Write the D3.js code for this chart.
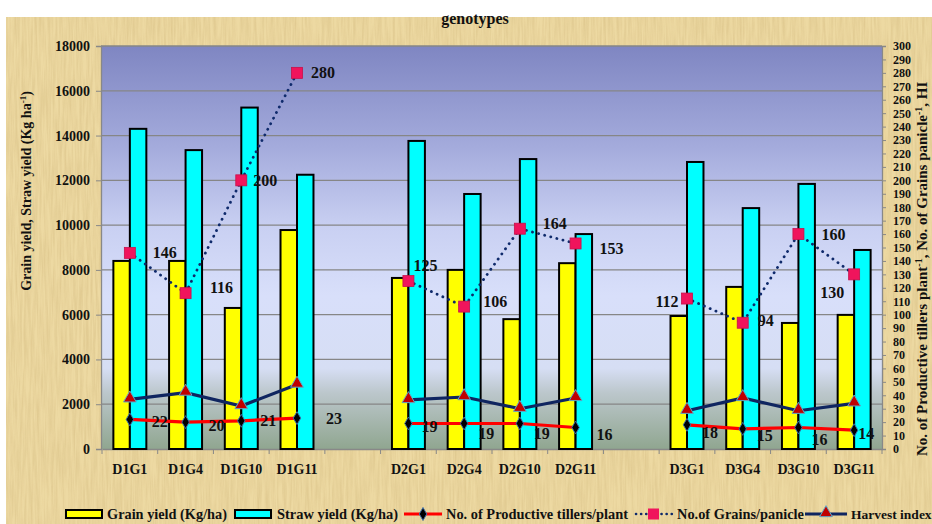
<!DOCTYPE html>
<html>
<head>
<meta charset="utf-8">
<script src="https://cdn.jsdelivr.net/npm/d3@7"></script>
<style>
  html, body { margin: 0; padding: 0; background: #fff; }
  svg { display: block; }
  text { font-family: "Liberation Serif", "Times New Roman", serif; font-weight: bold; fill: #111; }
</style>
</head>
<body>
<svg id="chart" width="932" height="524"></svg>
<script>
// ---- data ----
const dates = ["D1", "D2", "D3"];
const genotypes = ["G1", "G4", "G10", "G11"];
const categories = ["D1G1", "D1G4", "D1G10", "D1G11",
                    "D2G1", "D2G4", "D2G10", "D2G11",
                    "D3G1", "D3G4", "D3G10", "D3G11"];
const grainYield = [8400, 8400, 6300, 9780, 7640, 8000, 5800, 8300, 5940, 7240, 5630, 5990];
const strawYield = [14300, 13350, 15250, 12250, 13760, 11390, 12950, 9600, 12820, 10760, 11840, 8890];
const tillers = [22, 20, 21, 23, 19, 19, 19, 16, 18, 15, 16, 14];
const grains = [146, 116, 200, 280, 125, 106, 164, 153, 112, 94, 160, 130];
const harvestIndex = [37, 42, 32, 48, 36.5, 38.7, 30, 38, 28.5, 38, 28.5, 34];
const leftTicks = [0, 2000, 4000, 6000, 8000, 10000, 12000, 14000, 16000, 18000];
const rightTicks = [0, 10, 20, 30, 40, 50, 60, 70, 80, 90, 100, 110, 120, 130, 140, 150,
                    160, 170, 180, 190, 200, 210, 220, 230, 240, 250, 260, 270, 280, 290, 300];
const legendLabels = ["Grain yield (Kg/ha)", "Straw yield (Kg/ha)", "No. of Productive tillers/plant",
                      "No.of Grains/panicle", "Harvest index"];

// label nudges (px) so value labels sit clear of markers
const grainsLabelShift = [[35,0],[36,-6],[24,0],[26,0],[17,-16],[31,-5],[35,-5],[36,5],[-20,3],[23,-2],[35,0],[-22,18]];
const tillersLabelShift = [[30,2],[31,3],[27,0],[37,0],[21,3],[22,10],[22,10],[29,7],[23,8],[22,7],[21,12],[12,3]];

// ---- layout ----
const W = 932, H = 524;
const plot = { left: 101, right: 882, top: 46, bottom: 449 };
const svg = d3.select("#chart");
const defs = svg.append("defs");

// parchment backdrop
const paper = defs.append("filter").attr("id", "paper").attr("x", 0).attr("y", 0).attr("width", 1).attr("height", 1);
paper.append("feTurbulence").attr("type", "fractalNoise").attr("baseFrequency", "0.45 0.025")
  .attr("numOctaves", 3).attr("seed", 7).attr("result", "n");
paper.append("feColorMatrix").attr("in", "n").attr("type", "matrix")
  .attr("values", "0 0 0 0 0.66  0 0 0 0 0.5  0 0 0 0 0.22  1.0 0 0 0 -0.3");

svg.append("rect").attr("width", W).attr("height", H).attr("fill", "#fff");
svg.append("rect").attr("x", 6).attr("y", 17).attr("width", W - 6).attr("height", H - 17).attr("fill", "#EDD9A2");
svg.append("rect").attr("x", 6).attr("y", 17).attr("width", W - 6).attr("height", H - 17)
  .attr("filter", "url(#paper)").attr("opacity", 0.9);

// plot-area gradient
const grad = defs.append("linearGradient").attr("id", "plotBg").attr("x1", 0).attr("y1", 0).attr("x2", 0).attr("y2", 1);
[["0%", "#7F86C2"], ["25%", "#A4ABDC"], ["45%", "#C9D0F2"], ["62%", "#D8DFFA"], ["80%", "#D6DEF4"],
 ["86%", "#BCC7CC"], ["100%", "#90A690"]].forEach(([o, c]) =>
  grad.append("stop").attr("offset", o).attr("stop-color", c));
svg.append("rect").attr("x", plot.left).attr("y", plot.top)
  .attr("width", plot.right - plot.left).attr("height", plot.bottom - plot.top).attr("fill", "url(#plotBg)");

// ---- scales ----
const slots = [];
dates.forEach((d, i) => {
  genotypes.forEach(g => slots.push(d + g));
  if (i < dates.length - 1) slots.push("gap" + i);
});
const x = d3.scaleBand().domain(slots).range([102, plot.right]).paddingInner(0).paddingOuter(0);
const inner = d3.scaleBand().domain(["grain", "straw"]).range([0, x.bandwidth()]).paddingInner(0).paddingOuter(0.69);
const yL = d3.scaleLinear().domain([0, 18000]).range([plot.bottom, plot.top]);
const yR = d3.scaleLinear().domain([0, 300]).range([plot.bottom, plot.top]);
const cx = c => x(c) + x.bandwidth() / 2;

// gridlines
svg.append("g").selectAll("line").data(leftTicks.filter(v => v > 0)).join("line")
  .attr("x1", plot.left).attr("x2", plot.right)
  .attr("y1", d => yL(d)).attr("y2", d => yL(d))
  .attr("stroke", "#868686").attr("stroke-width", 1.3);

// ---- axes ----
const axL = svg.append("g").attr("transform", `translate(${plot.left},0)`)
  .call(d3.axisLeft(yL).tickValues(leftTicks).tickFormat(d3.format("d")).tickSize(5).tickPadding(6));
axL.selectAll("text").attr("font-size", 14).style("font-family", "Liberation Serif").style("font-weight", "bold");

const axR = svg.append("g").attr("transform", `translate(${plot.right},0)`)
  .call(d3.axisRight(yR).tickValues(rightTicks).tickFormat(d3.format("d")).tickSize(4).tickPadding(7));
axR.selectAll("text").attr("font-size", 12).style("font-family", "Liberation Serif").style("font-weight", "bold");

const axB = svg.append("g").attr("transform", `translate(0,${plot.bottom})`)
  .call(d3.axisBottom(x).tickFormat(d => categories.includes(d) ? d : "").tickSize(0).tickPadding(15));
axB.selectAll("text").attr("font-size", 14).style("font-family", "Liberation Serif").style("font-weight", "bold");
// category separator ticks
svg.append("g").selectAll("line").data(d3.range(slots.length + 1)).join("line")
  .attr("x1", i => 102 + i * x.step()).attr("x2", i => 102 + i * x.step())
  .attr("y1", plot.bottom).attr("y2", plot.bottom + 5).attr("stroke", "#888");

[axL, axR, axB].forEach(a => {
  a.select(".domain").attr("stroke", "#888").attr("stroke-width", 1.3);
  a.selectAll(".tick line").attr("stroke", "#888");
  a.selectAll("text").attr("fill", "#111");
});

// ---- bars ----
const bars = svg.append("g");
categories.forEach((c, i) => {
  bars.append("rect").attr("x", x(c) + inner("grain")).attr("y", yL(grainYield[i]))
    .attr("width", inner.bandwidth()).attr("height", yL(0) - yL(grainYield[i]))
    .attr("fill", "#FFFF00").attr("stroke", "#000").attr("stroke-width", 2);
  bars.append("rect").attr("x", x(c) + inner("straw")).attr("y", yL(strawYield[i]))
    .attr("width", inner.bandwidth()).attr("height", yL(0) - yL(strawYield[i]))
    .attr("fill", "#00FFFF").attr("stroke", "#000").attr("stroke-width", 2);
});

// ---- lines (one run per sowing date) ----
const groups = dates.map((d, gi) => d3.range(gi * 4, gi * 4 + 4));
const lineOf = vals => d3.line().x(i => cx(categories[i])).y(i => yR(vals[i]));
const lines = svg.append("g");
groups.forEach(idx => {
  lines.append("path").attr("d", lineOf(harvestIndex)(idx)).attr("fill", "none")
    .attr("stroke", "#0F2560").attr("stroke-width", 3.2);
  lines.append("path").attr("d", lineOf(tillers)(idx)).attr("fill", "none")
    .attr("stroke", "#FF0000").attr("stroke-width", 3.2);
  lines.append("path").attr("d", lineOf(grains)(idx)).attr("fill", "none")
    .attr("stroke", "#0F2A6B").attr("stroke-width", 2.8)
    .attr("stroke-dasharray", "0.1 6.2").attr("stroke-linecap", "round");
});

// markers
const tri = d3.symbol().type(d3.symbolTriangle).size(70);
const dia = d3.symbol().type(d3.symbolDiamond).size(48);
const marks = svg.append("g");
categories.forEach((c, i) => {
  marks.append("path").attr("d", tri()).attr("transform", `translate(${cx(c)},${yR(harvestIndex[i]) - 1})`)
    .attr("fill", "#C00000").attr("stroke", "#5FA6C8").attr("stroke-width", 1);
  marks.append("path").attr("d", dia()).attr("transform", `translate(${cx(c)},${yR(tillers[i])})`)
    .attr("fill", "#000").attr("stroke", "#3D6FA8").attr("stroke-width", 1);
  marks.append("rect").attr("x", cx(c) - 5.5).attr("y", yR(grains[i]) - 5.5).attr("width", 11).attr("height", 11)
    .attr("fill", "#F0145C").attr("stroke", "#C8104A").attr("stroke-width", 0.8);
});

// value labels
const labels = svg.append("g").attr("font-size", 16).attr("text-anchor", "middle");
categories.forEach((c, i) => {
  labels.append("text").attr("x", cx(c) + grainsLabelShift[i][0]).attr("y", yR(grains[i]) + grainsLabelShift[i][1])
    .attr("dy", "0.35em").text(grains[i]);
  labels.append("text").attr("x", cx(c) + tillersLabelShift[i][0]).attr("y", yR(tillers[i]) + tillersLabelShift[i][1])
    .attr("dy", "0.35em").text(tillers[i]);
});

// ---- titles ----
svg.append("text").attr("x", 475).attr("y", 24).attr("text-anchor", "middle").attr("font-size", 16).text("genotypes");

const lt = svg.append("text").attr("transform", "translate(31,191) rotate(-90)")
  .attr("text-anchor", "middle").attr("font-size", 14);
lt.append("tspan").text("Grain yield, Straw yield (Kg ha");
lt.append("tspan").attr("dy", -5).attr("font-size", 9).text("-1");
lt.append("tspan").attr("dy", 5).text(")");

const rt = svg.append("text").attr("transform", "translate(927,456) rotate(-90)")
  .attr("text-anchor", "start").attr("font-size", 15);
rt.append("tspan").text("No. of Productive tillers plant");
rt.append("tspan").attr("dy", -5).attr("font-size", 10).text("-1");
rt.append("tspan").attr("dy", 5).text(", No. of Grains panicle");
rt.append("tspan").attr("dy", -5).attr("font-size", 10).text("-1");
rt.append("tspan").attr("dy", 5).text(", HI");

// ---- legend ----
const lg = svg.append("g").attr("font-size", 15);
const ly = 514;
const swatchX = [66, 235, 404, 635, 805];
const textX = [107, 277, 446, 677, 851];
const textW = [120, 121, 182, 127, null];
legendLabels.forEach((lab, k) => {
  const sw = lg.append("g").attr("transform", `translate(${swatchX[k]},${ly})`);
  if (k < 2) {
    sw.append("rect").attr("x", 0).attr("y", -4).attr("width", 36).attr("height", 8)
      .attr("fill", k === 0 ? "#FFFF00" : "#00FFFF").attr("stroke", "#000").attr("stroke-width", 2);
  } else if (k === 2) {
    sw.append("line").attr("x1", 0).attr("x2", 38).attr("stroke", "#FF0000").attr("stroke-width", 3);
    sw.append("path").attr("d", dia()).attr("transform", "translate(19,0)").attr("fill", "#000").attr("stroke", "#3D6FA8");
  } else if (k === 3) {
    sw.append("line").attr("x1", 1).attr("x2", 37).attr("stroke", "#0F2A6B").attr("stroke-width", 2.6)
      .attr("stroke-dasharray", "0.1 5").attr("stroke-linecap", "round");
    sw.append("rect").attr("x", 13).attr("y", -5.5).attr("width", 11).attr("height", 11).attr("fill", "#F0145C");
  } else {
    sw.append("line").attr("x1", 0).attr("x2", 42).attr("stroke", "#0F2560").attr("stroke-width", 3);
    sw.append("path").attr("d", tri()).attr("transform", "translate(21,-1)").attr("fill", "#C00000").attr("stroke", "#5FA6C8");
  }
  const t = lg.append("text").attr("x", textX[k]).attr("y", ly).attr("dy", "0.35em").text(lab);
  if (textW[k]) t.attr("textLength", textW[k]).attr("lengthAdjust", "spacingAndGlyphs");
  else t.attr("font-size", 13.5);
});
</script>
</body>
</html>
